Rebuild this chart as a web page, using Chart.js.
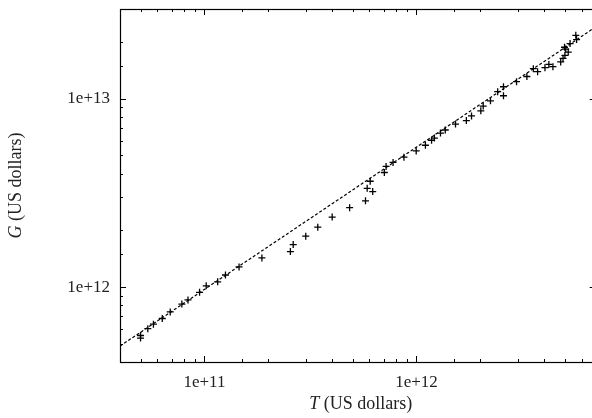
<!DOCTYPE html>
<html>
<head>
<meta charset="utf-8">
<script src="https://cdn.jsdelivr.net/npm/chart.js@4.4.1/dist/chart.umd.min.js"></script>
<style>
  html, body { margin: 0; padding: 0; background: #fff; overflow: hidden; }
  #wrap { width: 601px; height: 418px; }
</style>
</head>
<body>
<div id="wrap"><canvas id="gtChart"></canvas></div>
<script>
// T y G en dolares
const tValues = [
  5.0e10, 5.0e10, 5.41e10, 5.75e10, 6.33e10, 6.9e10, 7.83e10, 8.37e10, 9.49e10, 1.02e11,
  1.155e11, 1.257e11, 1.457e11, 1.867e11, 2.544e11, 2.623e11, 3.006e11, 3.425e11, 4.004e11, 4.839e11,
  5.749e11, 5.856e11, 6.218e11, 6.05e11, 7.055e11, 7.19e11, 7.755e11, 8.727e11, 9.97e11, 1.102e12,
  1.178e12, 1.215e12, 1.298e12, 1.367e12, 1.528e12, 1.719e12, 1.818e12, 2.011e12, 2.064e12, 2.233e12,
  2.415e12, 2.572e12, 2.572e12, 2.964e12, 3.316e12, 3.556e12, 3.726e12, 4.035e12, 4.21e12, 4.4e12,
  4.787e12, 4.909e12, 5.01e12, 5.195e12, 5.055e12, 4.99e12, 5.3e12, 5.64e12, 5.687e12
];
const gValues = [
  5.53e11, 5.36e11, 6.01e11, 6.35e11, 6.81e11, 7.38e11, 8.12e11, 8.55e11, 9.38e11, 1.016e12,
  1.067e12, 1.159e12, 1.279e12, 1.428e12, 1.543e12, 1.682e12, 1.863e12, 2.081e12, 2.353e12, 2.641e12,
  2.872e12, 3.348e12, 3.215e12, 3.649e12, 4.062e12, 4.372e12, 4.592e12, 4.901e12, 5.29e12, 5.666e12,
  6.026e12, 6.19e12, 6.58e12, 6.83e12, 7.34e12, 7.66e12, 8.11e12, 8.64e12, 9.15e12, 9.76e12,
  1.092e13, 1.038e13, 1.159e13, 1.233e13, 1.314e13, 1.446e13, 1.394e13, 1.464e13, 1.523e13, 1.482e13,
  1.57e13, 1.639e13, 1.701e13, 1.771e13, 1.838e13, 1.879e13, 1.966e13, 2.175e13, 2.065e13
];
// recta de ajuste (extremos)
const fitT = [4e10, 7e12];
const fitG = [4.86e11, 2.41e13];
// rangos de los ejes
const xRange = [4e10, 7e12];
const yRange = [4e11, 3e13];

const serif = '"Liberation Serif", "DejaVu Serif", serif';

function isDecade(v) {
  const l = Math.log10(v);
  return Math.abs(l - Math.round(l)) < 1e-9;
}
function decadeLabel(v) {
  return isDecade(v) ? '1e+' + Math.round(Math.log10(v)) : '';
}

// marco con marcas hacia dentro y titulos con letra cursiva
const frameTicks = {
  id: 'frameTicks',
  afterDraw(chart) {
    const { ctx, chartArea: a, scales: { x, y } } = chart;
    ctx.save();
    ctx.strokeStyle = '#000';
    ctx.lineWidth = 1;
    ctx.beginPath();
    x.ticks.forEach(t => {
      const px = Math.round(x.getPixelForValue(t.value)) + 0.5;
      const len = isDecade(t.value) ? 6 : 3;
      ctx.moveTo(px, a.bottom); ctx.lineTo(px, a.bottom - len);
      ctx.moveTo(px, a.top); ctx.lineTo(px, a.top + len);
    });
    y.ticks.forEach(t => {
      const py = Math.round(y.getPixelForValue(t.value)) + 0.5;
      const len = isDecade(t.value) ? 6 : 3;
      ctx.moveTo(a.left, py); ctx.lineTo(a.left + len, py);
      ctx.moveTo(a.right, py); ctx.lineTo(a.right - len, py);
    });
    ctx.stroke();
    ctx.lineWidth = 1.2;
    ctx.strokeRect(a.left + 0.5, a.top + 0.5, a.right - a.left, a.bottom - a.top);

    // titulos
    ctx.fillStyle = '#222';
    ctx.textBaseline = 'middle';
    const drawTitle = (sym, rest, cx, cy, rot) => {
      ctx.save();
      ctx.translate(cx, cy);
      ctx.rotate(rot);
      ctx.font = 'italic 18px ' + serif;
      const w1 = ctx.measureText(sym).width;
      ctx.font = '18px ' + serif;
      const w2 = ctx.measureText(rest).width;
      const start = -(w1 + w2) / 2;
      ctx.textAlign = 'left';
      ctx.font = 'italic 18px ' + serif;
      ctx.fillText(sym, start, 0);
      ctx.font = '18px ' + serif;
      ctx.fillText(rest, start + w1, 0);
      ctx.restore();
    };
    drawTitle('T', ' (US dollars)', (a.left + a.right) / 2 + 3, 404, 0);
    drawTitle('G', ' (US dollars)', 16, (a.top + a.bottom) / 2, -Math.PI / 2);
    ctx.restore();
  }
};

const ctx = document.getElementById('gtChart').getContext('2d');

new Chart(ctx, {
  type: 'scatter',
  data: {
    datasets: [
      {
        label: 'datos',
        data: tValues.map((t, i) => ({ x: t, y: gValues[i] })),
        pointStyle: 'cross',
        pointRadius: 3.5,
        borderWidth: 1.3,
        borderColor: '#000',
        backgroundColor: '#000'
      },
      {
        label: 'ajuste',
        type: 'line',
        data: fitT.map((t, i) => ({ x: t, y: fitG[i] })),
        borderColor: '#000',
        borderWidth: 1.2,
        borderDash: [3, 2],
        pointRadius: 0,
        fill: false
      }
    ]
  },
  options: {
    responsive: true,
    maintainAspectRatio: false,
    animation: false,
    events: [],
    layout: { padding: { top: 9, right: 2, left: 0, bottom: 0 } },
    plugins: {
      legend: { display: false },
      tooltip: { enabled: false }
    },
    scales: {
      x: {
        type: 'logarithmic',
        min: xRange[0],
        max: xRange[1],
        grid: { display: false, drawTicks: false },
        border: { display: false },
        ticks: {
          autoSkip: false,
          maxRotation: 0,
          padding: 10,
          color: '#222',
          font: { family: serif, size: 17 },
          callback: decadeLabel
        },
        afterFit(scale) {
          scale.height = 56;
          scale.paddingLeft = 0;
          scale.paddingRight = 0;
        }
      },
      y: {
        type: 'logarithmic',
        min: yRange[0],
        max: yRange[1],
        grid: { display: false, drawTicks: false },
        border: { display: false },
        ticks: {
          autoSkip: false,
          padding: 10,
          color: '#222',
          font: { family: serif, size: 17 },
          callback: decadeLabel
        },
        afterFit(scale) {
          scale.width = 120;
          scale.paddingTop = 0;
          scale.paddingBottom = 0;
        }
      }
    }
  },
  plugins: [frameTicks]
});
</script>
</body>
</html>
